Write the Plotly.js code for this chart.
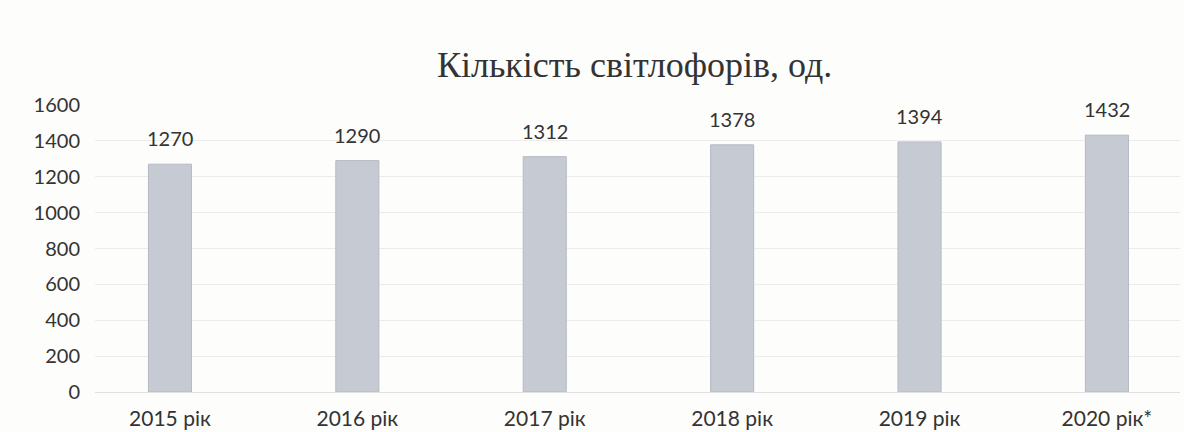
<!DOCTYPE html>
<html>
<head>
<meta charset="utf-8">
<script src="https://cdn.plot.ly/plotly-3.0.1.min.js"></script>
<style>html,body{margin:0;padding:0;background:#fdfdfb;}#chart{width:1184px;height:432px;}</style>
</head>
<body>
<div id="chart"></div>
<script>
const categories = ["2015 рік", "2016 рік", "2017 рік", "2018 рік", "2019 рік", "2020 рік*"];
const values = [1270, 1290, 1312, 1378, 1394, 1432];
const valueLabels = ["1270", "1290", "1312", "1378", "1394", "1432"];
const titleText = "Кількість світлофорів, од.";

const trace = {
  type: "bar",
  x: categories,
  y: values,
  width: 0.23,
  marker: {color: "#c6cad3", line: {color: "#b6bac2", width: 1}},
  hoverinfo: "skip"
};

const annotations = categories.map((c, i) => ({
  x: c, y: values[i], text: valueLabels[i], showarrow: false,
  yanchor: "bottom", yshift: 12,
  font: {family: "Lato, 'Open Sans', sans-serif", size: 20, color: "#333"}
}));

const layout = {
  width: 1184, height: 432,
  paper_bgcolor: "#fdfdfb", plot_bgcolor: "#fdfdfb",
  margin: {l: 95, r: 4, t: 105, b: 40},
  title: {text: titleText, x: 0.536, xanchor: "center", y: 0.85, yanchor: "middle",
    font: {family: "'Liberation Serif', 'DejaVu Serif', serif", size: 36, color: "#333"}},
  showlegend: false,
  xaxis: {
    type: "category", range: [-0.4, 5.39], showgrid: false, zeroline: false, showline: false,
    ticks: "", ticklabelstandoff: 12,
    tickfont: {family: "Lato, 'Open Sans', sans-serif", size: 21, color: "#333"}
  },
  yaxis: {
    range: [0, 1600], tickvals: [0,200,400,600,800,1000,1200,1400,1600],
    showgrid: true, gridcolor: "#ececec", gridwidth: 1, zeroline: true, zerolinecolor: "#e0e0e0",
    ticks: "", ticklabelstandoff: 14,
    tickfont: {family: "Lato, 'Open Sans', sans-serif", size: 20, color: "#333"}
  },
  annotations: annotations
};

Plotly.newPlot("chart", [trace], layout, {displayModeBar: false, staticPlot: true});
</script>
</body>
</html>
